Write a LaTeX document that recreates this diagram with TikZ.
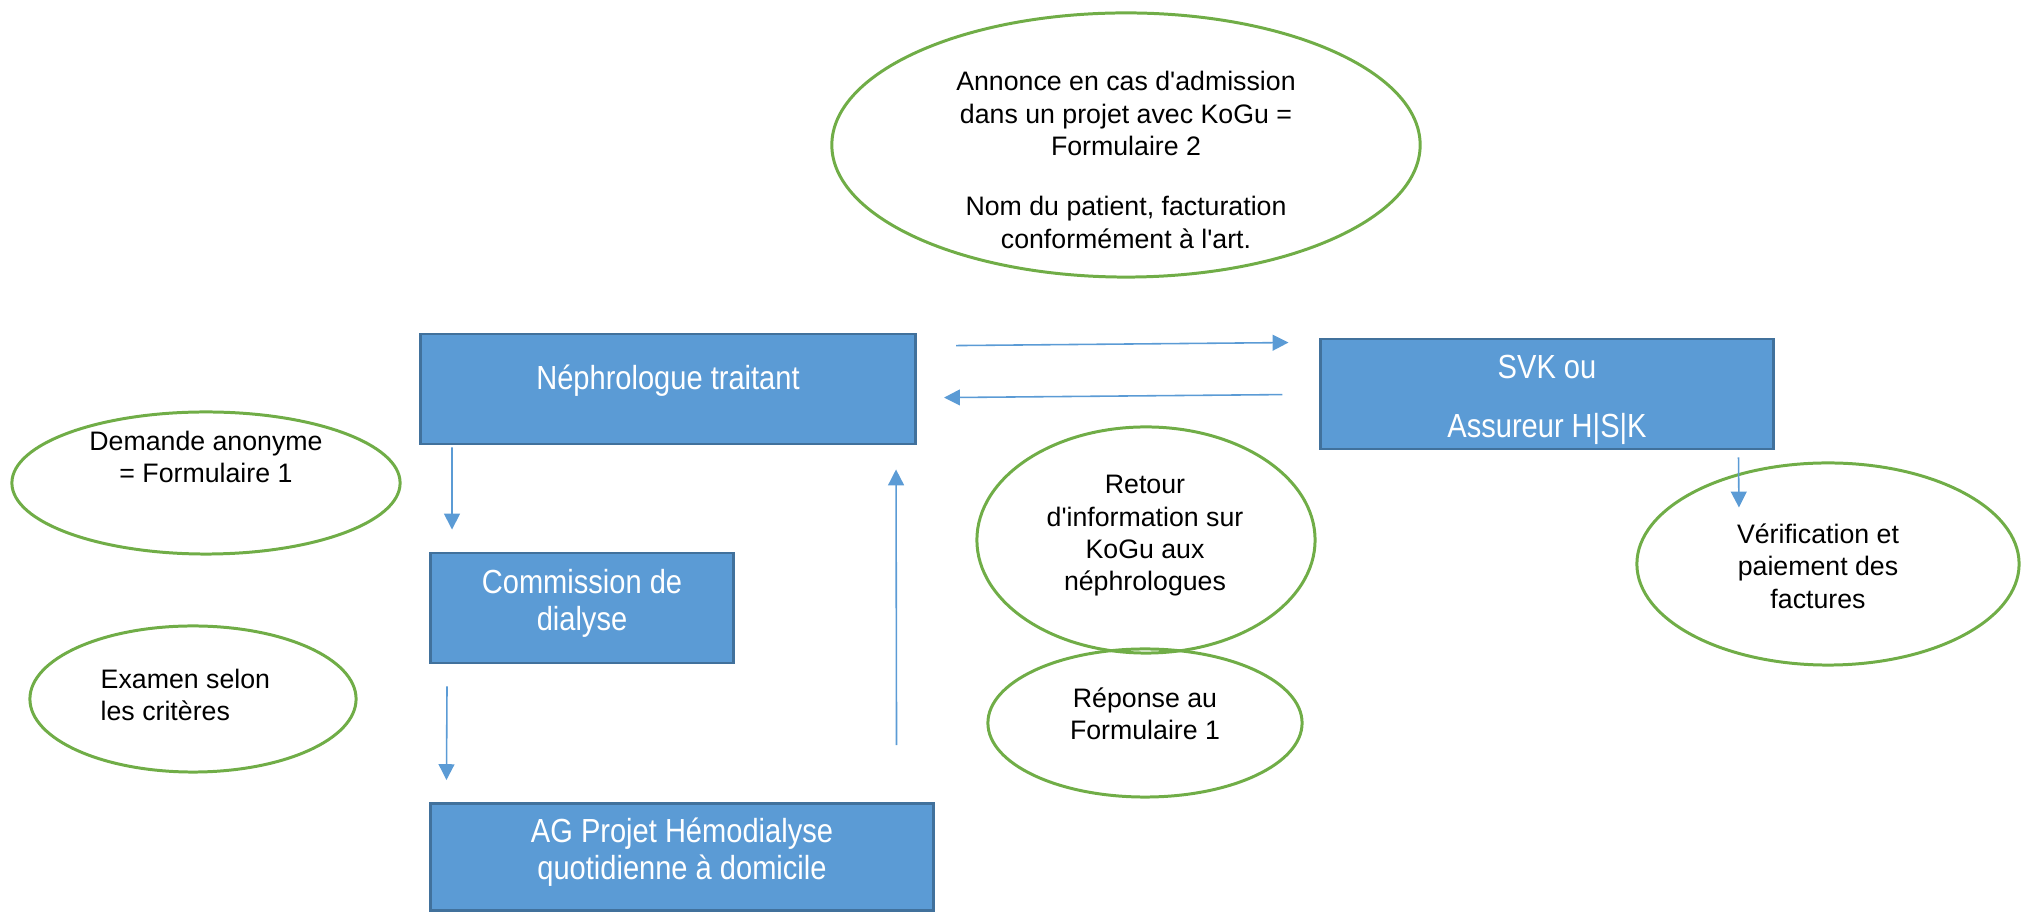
\documentclass[tikz,border=0pt]{standalone}
\usepackage{fontspec}
\setmainfont{Liberation Sans}[Ligatures=TeXOff]
\newfontfamily\narrowfont{Liberation Sans}[FakeStretch=0.87,Ligatures=TeXOff]
\usetikzlibrary{shapes.geometric}
\usetikzlibrary{arrows.meta}
\definecolor{officeblue}{HTML}{5B9BD5}
\definecolor{boxedge}{HTML}{41719C}
\definecolor{officegreen}{HTML}{70AD47}

\begin{document}
\begin{tikzpicture}[x=0.01cm,y=-0.01cm,>={Triangle[length=4.5pt,width=4.5pt]},
	box node/.style={rectangle,fill=officeblue,draw=boxedge,line width=0.8pt,
		text=white,font=\narrowfont\fontsize{9.5}{10.4}\selectfont,align=center,inner sep=0pt},
	bubble/.style={ellipse,draw=officegreen,line width=0.85pt,inner sep=0pt},
	note/.style={font=\fontsize{7.6}{9.2}\selectfont,align=center,inner sep=0pt},
	flow/.style={->,draw=officeblue,line width=0.45pt}]
	
	\useasboundingbox (0,0) rectangle (2029,913);
	
	% the four boxes (text height = top of box to last baseline)
	\node[box node, minimum width=4.95cm, text height=0.56cm, text depth=0.54cm] (nephro) at (668,389) {N\'ephrologue traitant};
	\node[box node, minimum width=4.52cm, text height=0.985cm, text depth=0.115cm] (svk)  at (1547,394) {SVK ou\\[6.5pt]Assureur H|S|K};
	\node[box node, minimum width=3.03cm, text height=0.775cm, text depth=0.325cm] (comm) at (582,608) {Commission de\\dialyse};
	\node[box node, minimum width=5.02cm, text height=0.755cm, text depth=0.315cm] (ag)   at (682,857) {AG Projet H\'emodialyse\\quotidienne \`a domicile};
	
	% the green bubbles
	\node[bubble, minimum width=5.88cm, minimum height=2.64cm] (annonce) at (1126,145) {};
	\node[bubble, minimum width=3.88cm, minimum height=1.42cm] (demande) at (206,483) {};
	\node[bubble, minimum width=3.26cm, minimum height=1.46cm] (examen)  at (193,699) {};
	\node[bubble, minimum width=3.38cm, minimum height=2.26cm] (retour)  at (1146,540) {};
	\node[bubble, minimum width=3.14cm, minimum height=1.48cm] (reponse) at (1145,723) {};
	\node[bubble, minimum width=3.82cm, minimum height=2.02cm] (verif)   at (1828,564) {};
	
	\node[note] (annonce text) at (1126,160) {Annonce en cas d'admission\\dans un projet avec KoGu =\\Formulaire 2\\[8pt]Nom du patient, facturation\\conform\'ement \`a l'art.};
	\node[note] (demande text) at (206,457) {Demande anonyme\\= Formulaire 1};
	\node[note, align=left, anchor=west] (examen text) at (100,695) {Examen selon\\les crit\`eres};
	\node[note] (retour text)  at (1145,536) {Retour\\d'information sur\\KoGu aux\\n\'ephrologues};
	\node[note] (reponse text) at (1145,714) {R\'eponse au\\Formulaire 1};
	\node[note] (verif text)   at (1818,566) {V\'erification et\\paiement des\\factures};
	
	% arrows, they stop short of the boxes
	\draw[flow] ([xshift=0.39cm,yshift=-0.13cm]nephro.north east) -- ([xshift=-0.31cm,yshift=-0.05cm]svk.north west);
	\draw[flow] ([xshift=-0.37cm,yshift=-0.57cm]svk.north west) -- ([xshift=0.27cm,yshift=-0.65cm]nephro.north east);
	\draw[flow] ([xshift=0.33cm,yshift=-0.02cm]nephro.south west) -- ([xshift=0.23cm,yshift=0.22cm]comm.north west);
	\draw[flow] ([xshift=0.18cm,yshift=-0.22cm]comm.south west) -- ([xshift=0.17cm,yshift=0.22cm]ag.north west);
	\draw[flow] ([xshift=-0.38cm,yshift=0.57cm]ag.north east) -- ([xshift=-0.21cm,yshift=-0.24cm]nephro.south east);
	\draw[flow] ([xshift=-0.36cm,yshift=-0.07cm]svk.south east) -- ([xshift=-0.89cm,yshift=-0.46cm]verif.north);
	
\end{tikzpicture}
\end{document}
